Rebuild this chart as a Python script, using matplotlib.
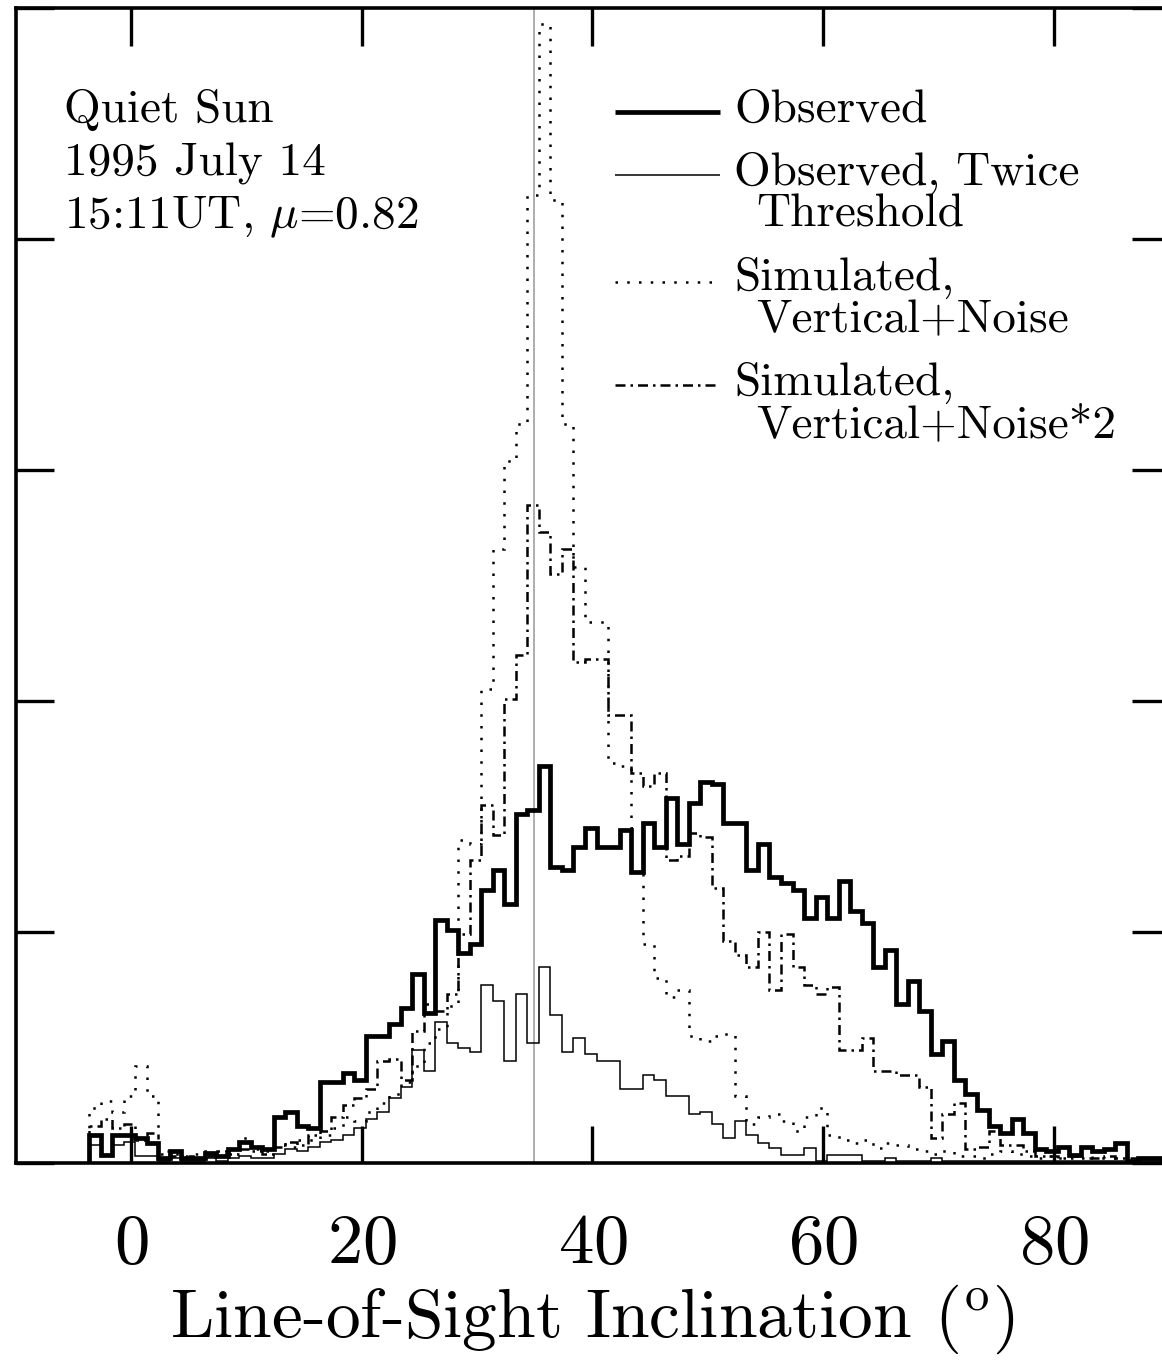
import numpy as np
import matplotlib
matplotlib.use("Agg")
import matplotlib.pyplot as plt

# 1-degree bins, left edges at -3.65 ... 88.35
bin_edges = np.arange(-3.65, 89.4, 1.0)
mu_angle = np.degrees(np.arccos(0.82))

observed = [0.12, 0.035, 0.12, 0.12, 0.11, 0.085, 0.02, 0.05, 0.02, 0.02,
            0.045, 0.03, 0.06, 0.09, 0.07, 0.06, 0.20, 0.22, 0.16, 0.15,
            0.35, 0.35, 0.39, 0.36, 0.55, 0.55, 0.60, 0.67, 0.82, 0.65,
            1.05, 1.01, 0.91, 0.95, 1.18, 1.27, 1.12, 1.51, 1.53, 1.72,
            1.28, 1.27, 1.37, 1.45, 1.37, 1.37, 1.44, 1.26, 1.47, 1.37,
            1.58, 1.38, 1.56, 1.65, 1.64, 1.47, 1.47, 1.27, 1.38, 1.24,
            1.21, 1.18, 1.06, 1.15, 1.06, 1.22, 1.09, 1.04, 0.85, 0.92,
            0.69, 0.79, 0.66, 0.47, 0.53, 0.36, 0.30, 0.23, 0.16, 0.13,
            0.19, 0.13, 0.06, 0.05, 0.07, 0.035, 0.07, 0.05, 0.06, 0.085,
            0.01, 0.02, 0.02]

observed_2x = [0.08, 0.03, 0.08, 0.09, 0.03, 0.03, 0.01, 0.02, 0.01, 0.01,
               0.02, 0.01, 0.02, 0.03, 0.02, 0.02, 0.04, 0.06, 0.05, 0.07,
               0.09, 0.10, 0.12, 0.15, 0.19, 0.22, 0.28, 0.33, 0.49, 0.40,
               0.61, 0.52, 0.50, 0.48, 0.77, 0.70, 0.44, 0.73, 0.52, 0.85,
               0.64, 0.48, 0.54, 0.47, 0.44, 0.44, 0.32, 0.32, 0.38, 0.36,
               0.29, 0.29, 0.21, 0.22, 0.17, 0.11, 0.18, 0.12, 0.085, 0.065,
               0.035, 0.035, 0.065, 0.01, 0.035, 0.035, 0.035, 0.01, 0.01, 0.02,
               0.01, 0.01, 0.01, 0.02, 0.01, 0.01, 0.01, 0.01, 0.01, 0.01,
               0.01, 0.01, 0.01, 0.01, 0.01, 0.01, 0.01, 0.01, 0.01, 0.01,
               0.01, 0.01, 0.01]

sim_noise = [0.24, 0.27, 0.22, 0.29, 0.42, 0.29, 0.05, 0.04, 0.03, 0.04,
             0.05, 0.04, 0.06, 0.11, 0.06, 0.05, 0.08, 0.07, 0.10, 0.10,
             0.12, 0.15, 0.20, 0.18, 0.22, 0.26, 0.30, 0.35, 0.42, 0.52,
             0.58, 0.68, 1.40, 1.38, 2.05, 2.66, 3.04, 3.20, 4.19, 4.93,
             4.17, 3.20, 2.58, 2.34, 2.34, 1.73, 1.72, 1.45, 0.95, 0.80,
             0.72, 0.75, 0.55, 0.53, 0.55, 0.56, 0.29, 0.17, 0.20, 0.21,
             0.18, 0.14, 0.20, 0.24, 0.12, 0.10, 0.085, 0.10, 0.065, 0.085,
             0.08, 0.06, 0.05, 0.04, 0.05, 0.03, 0.03, 0.02, 0.04, 0.05,
             0.04, 0.03, 0.02, 0.03, 0.02, 0.02, 0.03, 0.02, 0.02, 0.02,
             0.02, 0.02, 0.02]

sim_noise_2x = [0.16, 0.19, 0.15, 0.17, 0.10, 0.13, 0.04, 0.03, 0.03, 0.02,
                0.03, 0.05, 0.04, 0.06, 0.05, 0.04, 0.07, 0.09, 0.08, 0.12,
                0.14, 0.20, 0.25, 0.28, 0.32, 0.44, 0.45, 0.36, 0.57, 0.69,
                0.66, 0.73, 0.99, 1.31, 1.55, 1.42, 2.01, 2.20, 2.85, 2.73,
                2.55, 2.66, 2.17, 2.18, 2.18, 1.94, 1.94, 1.69, 1.63, 1.69,
                1.31, 1.33, 1.43, 1.41, 1.19, 0.96, 0.90, 0.85, 1.00, 0.75,
                0.99, 0.85, 0.77, 0.73, 0.76, 0.49, 0.49, 0.54, 0.40, 0.40,
                0.38, 0.38, 0.33, 0.11, 0.21, 0.26, 0.06, 0.07, 0.14, 0.08,
                0.08, 0.05, 0.03, 0.03, 0.02, 0.03, 0.02, 0.02, 0.03, 0.02,
                0.02, 0.02, 0.02]

x_ticks = [0, 20, 40, 60, 80]
y_ticks = [0, 1, 2, 3, 4, 5]

info_lines = ["Quiet Sun", "1995 July 14", r"15:11UT, $\mu$=0.82"]
legend_labels = [["Observed"],
                 ["Observed, Twice", "Threshold"],
                 ["Simulated,", "Vertical+Noise"],
                 ["Simulated,", "Vertical+Noise*2"]]

plt.rcParams['font.family'] = ['cmr10', 'DejaVu Serif']
plt.rcParams['mathtext.fontset'] = 'cm'
plt.rcParams['axes.formatter.use_mathtext'] = True

fig = plt.figure(figsize=(11.62, 13.6), dpi=100)
ax = fig.add_axes([16/1162, 197/1360, 1153/1162, 1155/1360])

dotted = (0, (1, 3.7))
dashdot = (0, (4, 2, 1, 2))
styles = [dict(lw=3.4, ls='-'),
          dict(lw=1.1, ls='-'),
          dict(lw=1.8, ls=dotted),
          dict(lw=1.8, ls=dashdot)]

ax.axvline(mu_angle, color='#a8a8a8', lw=1.3, zorder=1)

series = [observed, observed_2x, sim_noise, sim_noise_2x]
for vals, st in reversed(list(zip(series, styles))):
    ax.stairs(vals, bin_edges, baseline=0, color='k', zorder=3, **st)

ax.set_xlim(-10, 90)
ax.set_ylim(0, 5)
ax.set_xticks(x_ticks)
ax.set_yticks(y_ticks)
ax.set_yticklabels([])
ax.tick_params(direction='in', length=27, width=2.4, top=True, right=True,
               labelsize=51, pad=36)
for s in ax.spines.values():
    s.set_linewidth(2.6)
ax.set_xlabel(r"Line-of-Sight Inclination ($^{\rm o}$)", fontsize=50, labelpad=4)

# annotation block
info_y = [0.9013, 0.8554, 0.8095]
for txt, yy in zip(info_lines, info_y):
    ax.text(0.0416, yy, txt, transform=ax.transAxes, fontsize=34, va='baseline')

# legend drawn by hand
line_y = [0.910, 0.8554, 0.7628, 0.6736]
text_y = [[0.9013], [0.8468, 0.8104], [0.7558, 0.7195], [0.6649, 0.6286]]
for st, ly, labs, tys in zip(styles, line_y, legend_labels, text_y):
    ax.plot([0.5195, 0.6106], [ly, ly], transform=ax.transAxes, color='k',
            solid_capstyle='butt', **st)
    for k, (lab, ty) in enumerate(zip(labs, tys)):
        ax.text(0.6227 if k == 0 else 0.6418, ty, lab, transform=ax.transAxes,
                fontsize=34, va='baseline')

fig.savefig("out.png", dpi=100)
